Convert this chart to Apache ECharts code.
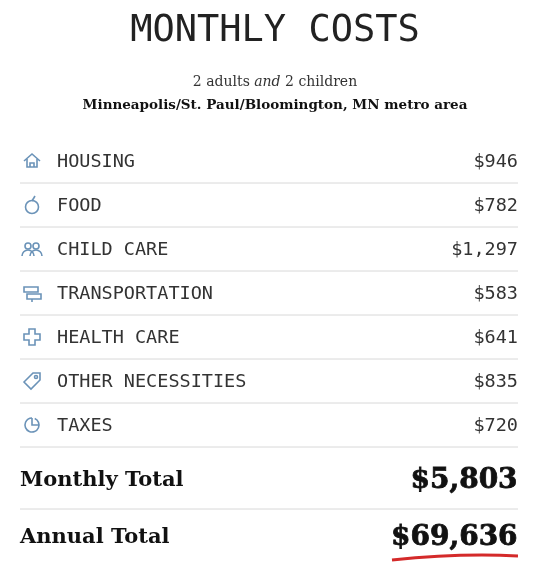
<!DOCTYPE html>
<html><head><meta charset="utf-8">
<script src="https://cdn.jsdelivr.net/npm/echarts@6/dist/echarts.min.js"></script>
<style>html,body{margin:0;background:#fff}#c{width:550px;height:572px}</style>
</head><body><div id="c"></div>
<script>
const categories = ['HOUSING','FOOD','CHILD CARE','TRANSPORTATION','HEALTH CARE','OTHER NECESSITIES','TAXES'];
const values = [946, 782, 1297, 583, 641, 835, 720];
const totalLabels = ['Monthly Total','Annual Total'];
const totals = [5803, 69636];
const ICON = '#6b93b8';
const fmt = v => '$' + v.toLocaleString('en-US');

function icon(i, x, y) {
  const s = {stroke: ICON, lineWidth: 1.6, fill: 'none'};
  const c = [];
  if (i === 0) { c.push({type:'polyline',shape:{points:[[x-8,y],[x,y-7],[x+8,y]]},style:s});
    c.push({type:'polyline',shape:{points:[[x-5,y-2],[x-5,y+6],[x+5,y+6],[x+5,y-2]]},style:s});
    c.push({type:'polyline',shape:{points:[[x-2,y+6],[x-2,y+2],[x+2,y+2],[x+2,y+6]]},style:s}); }
  else if (i === 1) { c.push({type:'circle',shape:{cx:x,cy:y+2,r:6.5},style:s});
    c.push({type:'line',shape:{x1:x,y1:y-4,x2:x+3,y2:y-9},style:s}); }
  else if (i === 2) { c.push({type:'circle',shape:{cx:x-4,cy:y-3,r:3},style:s});
    c.push({type:'circle',shape:{cx:x+4,cy:y-3,r:3},style:s});
    c.push({type:'arc',shape:{cx:x-4,cy:y+7,r:6,startAngle:Math.PI,endAngle:2*Math.PI},style:s});
    c.push({type:'arc',shape:{cx:x+4,cy:y+7,r:6,startAngle:Math.PI,endAngle:2*Math.PI},style:s}); }
  else if (i === 3) { c.push({type:'rect',shape:{x:x-8,y:y-6,width:14,height:5},style:s});
    c.push({type:'rect',shape:{x:x-5,y:y+1,width:14,height:5},style:s});
    c.push({type:'line',shape:{x1:x,y1:y+6,x2:x,y2:y+9},style:s}); }
  else if (i === 4) { c.push({type:'polygon',shape:{points:[[x-3,y-8],[x+3,y-8],[x+3,y-3],[x+8,y-3],[x+8,y+3],[x+3,y+3],[x+3,y+8],[x-3,y+8],[x-3,y+3],[x-8,y+3],[x-8,y-3],[x-3,y-3]]},style:s}); }
  else if (i === 5) { c.push({type:'polygon',shape:{points:[[x-8,y+1],[x+1,y-8],[x+8,y-8],[x+8,y-1],[x-1,y+8]]},style:s});
    c.push({type:'circle',shape:{cx:x+4,cy:y-4,r:1.5},style:s}); }
  else { c.push({type:'arc',shape:{cx:x,cy:y,r:7,startAngle:-Math.PI/2+0.4,endAngle:Math.PI*1.5},style:s});
    c.push({type:'polyline',shape:{points:[[x,y-7],[x,y],[x+7,y]]},style:s}); }
  return c;
}

const chart = echarts.init(document.getElementById('c'));
chart.setOption({
  animation: false,
  title: [
    {text:'MONTHLY COSTS', left:'center', top:8, textStyle:{fontFamily:'DejaVu Sans Mono', fontSize:37, fontWeight:'normal', color:'#222'}},
    {text:'{a|2 adults }{i|and}{a| 2 children}\n{b|Minneapolis/St. Paul/Bloomington, MN metro area}', left:'center', top:66,
     textStyle:{lineHeight:23, fontWeight:'normal', rich:{a:{fontFamily:'DejaVu Serif',fontWeight:'normal',fontSize:14,color:'#333'},i:{fontFamily:'DejaVu Serif',fontWeight:'normal',fontStyle:'italic',fontSize:14,color:'#333'},b:{fontFamily:'DejaVu Serif',fontWeight:'bold',fontSize:13.5,color:'#111'}}}}
  ],
  grid: {left:20, right:32, top:139, height:308},
  xAxis: {type:'value', min:0, max:100, show:false},
  yAxis: {type:'category', data:categories, inverse:true, show:false},
  series: [{
    type:'custom',
    data: values.map((v,i)=>[i,v]),
    encode:{y:0},
    renderItem:(params, api)=>{
      const i = api.value(0);
      const [x0, y] = api.coord([0, categories[i]]);
      const x1 = api.coord([100, categories[i]])[0];
      const band = api.size([0,1])[1];
      const children = icon(i, x0+12, y);
      children.push({type:'text', style:{text:categories[i], x:x0+37, y:y+1, verticalAlign:'middle', font:'18.5px "DejaVu Sans Mono"', fill:'#333'}});
      children.push({type:'text', style:{text:fmt(api.value(1)), x:x1, y:y+1, align:'right', verticalAlign:'middle', font:'18.5px "DejaVu Sans Mono"', fill:'#333'}});
      children.push({type:'line', shape:{x1:x0, y1:y+band/2, x2:x1, y2:y+band/2}, style:{stroke:'#d8d8d8', lineWidth:1}});
      return {type:'group', children};
    }
  }],
  graphic: [
    {type:'text', left:20, top:470, style:{text:totalLabels[0], font:'bold 21px "DejaVu Serif"', fill:'#111'}},
    {type:'text', right:32, top:466, style:{text:fmt(totals[0]), font:'bold 28px "DejaVu Serif"', fill:'#111', stroke:'#111', lineWidth:0.8}},
    {type:'line', shape:{x1:20,y1:509,x2:518,y2:509}, style:{stroke:'#d8d8d8', lineWidth:1}},
    {type:'text', left:20, top:527, style:{text:totalLabels[1], font:'bold 21px "DejaVu Serif"', fill:'#111'}},
    {type:'text', right:32, top:523, style:{text:fmt(totals[1]), font:'bold 28px "DejaVu Serif"', fill:'#111', stroke:'#111', lineWidth:0.8}},
    {type:'bezierCurve', shape:{x1:392,y1:560,x2:518,y2:556,cpx1:440,cpy1:555,cpx2:480,cpy2:554}, style:{stroke:'#d42a2a', lineWidth:3, fill:'none'}}
  ]
});
</script></body></html>
